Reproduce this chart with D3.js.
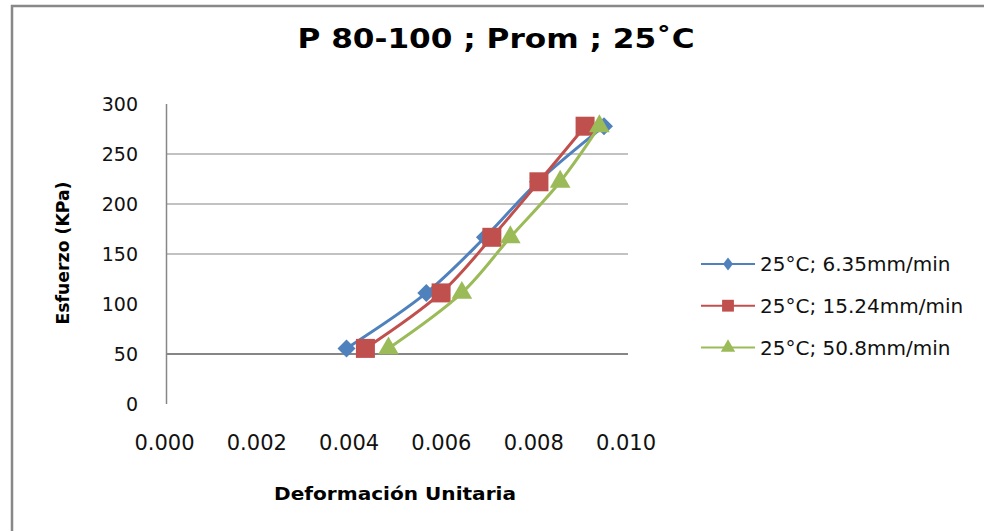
<!DOCTYPE html>
<html>
<head>
<meta charset="utf-8">
<script src="https://cdn.jsdelivr.net/npm/d3@7"></script>
<style>
  body { margin: 0; background: #fff; }
  svg { display: block; font-family: "DejaVu Sans", sans-serif; }
</style>
</head>
<body>
<svg id="graph" width="984" height="531"></svg>
<script>
// Data
const esfuerzo = [55.6, 111.1, 166.7, 222.2, 277.8];
const def635 = [0.0039, 0.00563, 0.0069, 0.00805, 0.00948];
const def1524 = [0.00431, 0.00595, 0.00705, 0.00807, 0.00907];
const def508 = [0.00481, 0.0064, 0.00745, 0.00853, 0.00938];
const seriesNames = ["25°C; 6.35mm/min", "25°C; 15.24mm/min", "25°C; 50.8mm/min"];
const xTicks = [0, 0.002, 0.004, 0.006, 0.008, 0.010];
const yTicks = [0, 50, 100, 150, 200, 250, 300];
const gridTicks = [50, 150, 200, 250]; // gridlines that show in the picture

const series = [
  { name: seriesNames[0], xs: def635, color: "#4F81BD", symbol: "diamond" },
  { name: seriesNames[1], xs: def1524, color: "#C0504D", symbol: "square" },
  { name: seriesNames[2], xs: def508, color: "#9BBB59", symbol: "triangle" },
];

const svg = d3.select("#graph");

// outer frame (only the left and top edges are in view)
svg.append("rect")
  .attr("x", 12).attr("y", 6)
  .attr("width", 1000).attr("height", 600)
  .attr("fill", "none")
  .attr("stroke", "#888")
  .attr("stroke-width", 2.5);

const x = d3.scaleLinear([0, 0.01], [166.5, 628]);
const y = d3.scaleLinear([0, 300], [404, 104]);

// title
svg.append("text")
  .attr("x", 496).attr("y", 48)
  .attr("text-anchor", "middle")
  .attr("font-weight", "bold")
  .attr("font-size", 27)
  .attr("textLength", 397)
  .attr("lengthAdjust", "spacingAndGlyphs")
  .text("P 80-100 ; Prom ; 25˚C");

// gridlines
svg.append("g")
  .selectAll("line")
  .data(gridTicks)
  .join("line")
  .attr("x1", x(0)).attr("x2", x(0.01))
  .attr("y1", (d) => y(d)).attr("y2", (d) => y(d))
  .attr("stroke", "#868686")
  .attr("stroke-width", (d) => (d === 50 ? 2 : 1.2));

// y axis line + labels
svg.append("line")
  .attr("x1", x(0)).attr("x2", x(0))
  .attr("y1", y(0)).attr("y2", y(300))
  .attr("stroke", "#868686")
  .attr("stroke-width", 1.5);

svg.append("g")
  .selectAll("text")
  .data(yTicks)
  .join("text")
  .attr("x", 138)
  .attr("y", (d) => y(d))
  .attr("dy", "0.36em")
  .attr("text-anchor", "end")
  .attr("font-size", 19)
  .attr("fill", "#111")
  .text((d) => d);

// x labels
svg.append("g")
  .selectAll("text")
  .data(xTicks)
  .join("text")
  .attr("x", (d) => x(d) - 2)
  .attr("y", 450)
  .attr("text-anchor", "middle")
  .attr("font-size", 21)
  .attr("fill", "#111")
  .text((d) => d3.format(".3f")(d));

// axis titles
svg.append("text")
  .attr("x", 395).attr("y", 500)
  .attr("text-anchor", "middle")
  .attr("font-weight", "bold")
  .attr("font-size", 17)
  .attr("textLength", 242)
  .attr("lengthAdjust", "spacingAndGlyphs")
  .text("Deformación Unitaria");

svg.append("text")
  .attr("transform", "translate(69,253) rotate(-90)")
  .attr("text-anchor", "middle")
  .attr("font-weight", "bold")
  .attr("font-size", 17)
  .attr("textLength", 143)
  .attr("lengthAdjust", "spacingAndGlyphs")
  .text("Esfuerzo (KPa)");

// markers (Excel style: diamond is a square turned 45°)
function marker(s, big) {
  if (s === "diamond") {
    const w = big ? 9 : 5, h = big ? 9 : 6.5;
    return `M0,${-h}L${w},0L0,${h}L${-w},0Z`;
  }
  if (s === "square") return d3.symbol(d3.symbolSquare, big ? 361 : 140)();
  return d3.symbol(d3.symbolTriangle, big ? 185 : 90)();
}

const line = d3.line()
  .x((d) => x(d[0]))
  .y((d) => y(d[1]))
  .curve(d3.curveCatmullRom);

for (const s of series) {
  const pts = s.xs.map((v, i) => [v, esfuerzo[i]]);
  const g = svg.append("g");
  g.append("path")
    .attr("d", line(pts))
    .attr("fill", "none")
    .attr("stroke", s.color)
    .attr("stroke-width", 3);
  g.selectAll("path.m")
    .data(pts)
    .join("path")
    .attr("class", "m")
    .attr("transform", (d) => `translate(${x(d[0])},${y(d[1])})`)
    .attr("d", marker(s.symbol, true))
    .attr("fill", s.color);
}

// legend
const legendY = [264, 305.7, 347.5];
const legend = svg.append("g")
  .selectAll("g")
  .data(series)
  .join("g")
  .attr("transform", (d, i) => `translate(0,${legendY[i]})`);

legend.append("line")
  .attr("x1", 701).attr("x2", 755)
  .attr("stroke", (d) => d.color)
  .attr("stroke-width", 2);
legend.append("path")
  .attr("transform", "translate(728,0)")
  .attr("d", (d) => marker(d.symbol, false))
  .attr("fill", (d) => d.color);
legend.append("text")
  .attr("x", 760)
  .attr("dy", "0.37em")
  .attr("font-size", 20)
  .attr("fill", "#111")
  .text((d) => d.name);
</script>
</body>
</html>
